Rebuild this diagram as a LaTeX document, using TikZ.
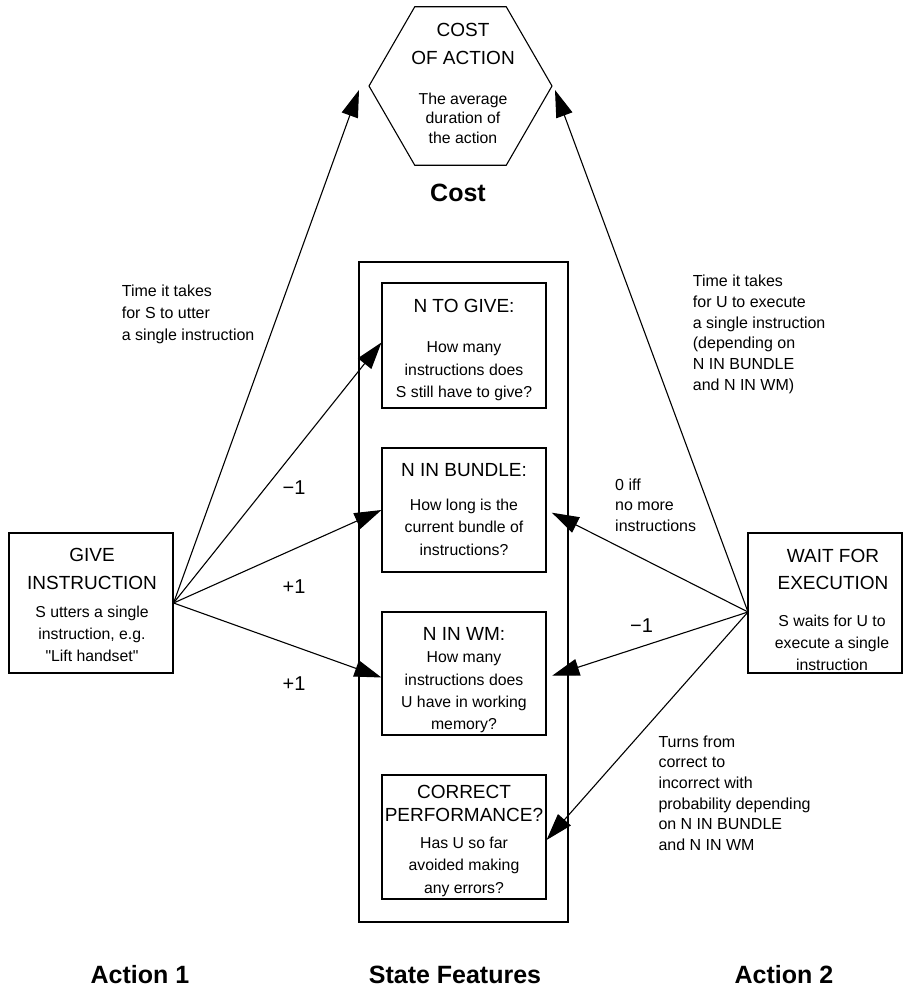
\documentclass[tikz,border=0pt]{standalone}
\usepackage{fontspec}
\setmainfont{Liberation Sans}
% same family without the TeX character mapping, for straight quotes
\newfontfamily\rawsans{Liberation Sans}
\usetikzlibrary{arrows.meta,shapes.geometric}

% one node per text row, rows stacked downwards by a fixed step
\newcommand{\textrows}[6]{%
  \foreach \rowtext [count=\rowno] in {#6}{%
    \node[#1] (#2-\rowno) at (#3,{#4+(\rowno-1)*#5}) {\rowtext};
  }}

\tikzset{
  frame/.style={draw=black, line width=1.1bp, inner sep=0pt},
  boxtitle/.style={font=\fontsize{19bp}{23bp}\selectfont, inner sep=0pt, anchor=base},
  boxbody/.style={font=\fontsize{15.8bp}{19bp}\selectfont, inner sep=0pt, anchor=base},
  note/.style={font=\fontsize{16bp}{19bp}\selectfont, inner sep=0pt, anchor=base west},
  delta/.style={font=\fontsize{20bp}{24bp}\selectfont, inner sep=0pt, anchor=base},
  heading/.style={font=\bfseries\fontsize{25bp}{30bp}\selectfont, inner sep=0pt, anchor=base},
  arr/.style={line width=1.1bp, -{Triangle[length=27bp,width=17bp]}},
}

\begin{document}
\begin{tikzpicture}[x=1bp, y=-1bp]
\useasboundingbox (0,0) rectangle (903,987);

% cost hexagon
\node[frame, regular polygon, regular polygon sides=6, minimum size=183bp] (cost) at (460.5,86) {};
\textrows{boxtitle}{costt}{463}{36}{28}{COST, OF ACTION}
\textrows{boxbody}{costb}{463}{104}{19.7}{The average, duration of, the action}
\node[heading] (costh) at (458,201.7) {Cost};

% state features
\node[frame, minimum width=209bp, minimum height=660bp] (state) at (463.5,592) {};
\node[frame, minimum width=164bp, minimum height=125bp] (togive) at (464,345.5) {};
\node[frame, minimum width=164bp, minimum height=124bp] (bundle) at (464,510) {};
\node[frame, minimum width=164bp, minimum height=123bp] (wm) at (464,673.5) {};
\node[frame, minimum width=164bp, minimum height=124bp] (correct) at (464,837) {};

\node[boxtitle] (togivet) at (464,312.7) {N TO GIVE:};
\textrows{boxbody}{togiveb}{464}{352.7}{22.3}{How many, instructions does, S still have to give?}
\node[boxtitle] (bundlet) at (464,476) {N IN BUNDLE:};
\textrows{boxbody}{bundleb}{464}{510.7}{22.2}{How long is the, current bundle of, instructions?}
\node[boxtitle] (wmt) at (464,640) {N IN WM:};
\textrows{boxbody}{wmb}{464}{662.7}{22.4}{How many, instructions does, U have in working, memory?}
\textrows{boxtitle}{correctt}{464}{798.3}{23.4}{CORRECT, PERFORMANCE?}
\textrows{boxbody}{correctb}{464}{848.3}{22.5}{Has U so far, avoided making, any errors?}

% action boxes
\node[frame, minimum width=164bp, minimum height=140bp] (give) at (91,603) {};
\textrows{boxtitle}{givet}{92}{561.7}{27.6}{GIVE, INSTRUCTION}
\textrows{boxbody}{giveb}{92}{617.3}{22.2}{S utters a single, {instruction, e.g.}, {\rawsans "Lift handset"}}

\node[frame, minimum width=154bp, minimum height=140bp] (wait) at (825,603) {};
\textrows{boxtitle}{waitt}{833}{562.5}{26.8}{WAIT FOR, EXECUTION}
\textrows{boxbody}{waitb}{832}{626.7}{21.8}{S waits for U to, execute a single, instruction}

% arrow end points
\coordinate (costL) at (359,90);
\coordinate (costR) at (555,90);
\coordinate (wsrc) at (748,612);

% effects of the first action
\draw[arr] (give.east) -- (costL);
\draw[arr] (give.east) -- ([yshift=3bp]togive.west);
\draw[arr] (give.east) -- (bundle.west);
\draw[arr] (give.east) -- ([yshift=-4bp]wm.west);

% effects of the second action
\draw[arr] (wsrc) -- (costR);
\draw[arr, shorten >=6bp] (wsrc) -- (bundle.east);
\draw[arr, shorten >=6bp] (wsrc) -- ([yshift=-4bp]wm.east);
\draw[arr] (wsrc) -- ([yshift=-3bp]correct.east);

% connector labels
\textrows{note}{lnote}{121.7}{296.7}{22.1}{Time it takes, for S to utter, a single instruction}
\textrows{note}{rnote}{692.7}{286.7}{20.7}{Time it takes, for U to execute, a single instruction, {(depending on}, N IN BUNDLE, {and N IN WM)}}
\textrows{note}{znote}{615}{490}{20.5}{0 iff, no more, instructions}
\textrows{note}{tnote}{658.3}{747.3}{20.6}{Turns from, correct to, incorrect with, probability depending, on N IN BUNDLE, and N IN WM}

\node[delta] (dm1) at (294,494.3) {−1};
\node[delta] (dp1) at (294,593) {+1};
\node[delta] (dp2) at (294,690) {+1};
\node[delta] (dm2) at (641.5,632) {−1};

% column headings
\node[heading] (act1) at (140,983) {Action 1};
\node[heading] (sfh) at (455,983) {State Features};
\node[heading] (act2) at (784,983) {Action 2};
\end{tikzpicture}
\end{document}
